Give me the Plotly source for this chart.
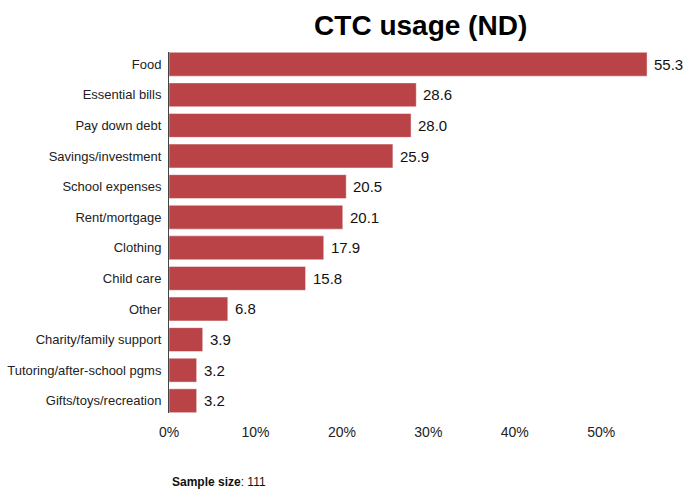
import plotly.graph_objects as go

categories = ["Food", "Essential bills", "Pay down debt", "Savings/investment",
              "School expenses", "Rent/mortgage", "Clothing", "Child care", "Other",
              "Charity/family support", "Tutoring/after-school pgms", "Gifts/toys/recreation"]
values = [55.3, 28.6, 28.0, 25.9, 20.5, 20.1, 17.9, 15.8, 6.8, 3.9, 3.2, 3.2]
tick_vals = [0, 10, 20, 30, 40, 50]
tick_text = ["0%", "10%", "20%", "30%", "40%", "50%"]
sample_size = 111

FONT = "Liberation Sans, Arial"

fig = go.Figure()
fig.add_trace(go.Bar(
    x=values, y=categories, orientation="h", width=0.78,
    marker=dict(color="#b94346", line=dict(color="rgba(255,255,255,0.45)", width=1)),
    hoverinfo="skip",
))

for cat, v in zip(categories, values):
    fig.add_annotation(x=v, y=cat, xref="x", yref="y", text=f"{v:.1f}",
                       xanchor="left", yanchor="middle", xshift=5, showarrow=False,
                       font=dict(size=15, color="#111", family=FONT))

fig.update_layout(
    width=684, height=489,
    margin=dict(l=169, r=11, t=52, b=76, autoexpand=False),
    paper_bgcolor="white", plot_bgcolor="white",
    title=dict(text="<b>CTC usage (ND)</b>", x=0.615, xanchor="center", y=0.948, yanchor="middle",
               font=dict(size=28, color="#000", family=FONT)),
    showlegend=False,
    font=dict(family=FONT, color="#222"),
)
fig.update_xaxes(range=[0, 58.3], tickvals=tick_vals, ticktext=tick_text,
                 showgrid=False, zeroline=False, showline=False, automargin=False,
                 tickfont=dict(size=14, color="#222"), ticks="outside", ticklen=6,
                 tickcolor="rgba(0,0,0,0)")
fig.update_yaxes(range=[11.4, -0.4], showgrid=False, showline=True, linecolor="#444",
                 linewidth=1, ticks="", automargin=False,
                 tickfont=dict(size=13, color="#222"), ticklabelstandoff=4)

fig.add_annotation(text=f"<b>Sample size</b>: {sample_size}", xref="paper", yref="paper",
                   x=0.0, y=-0.19, xanchor="left", yanchor="middle", showarrow=False,
                   xshift=1, font=dict(size=12, color="#111", family=FONT))

fig.write_html("out.html", config={"displayModeBar": False},
               post_script="document.body.style.margin='0px';document.body.style.overflow='hidden';")
